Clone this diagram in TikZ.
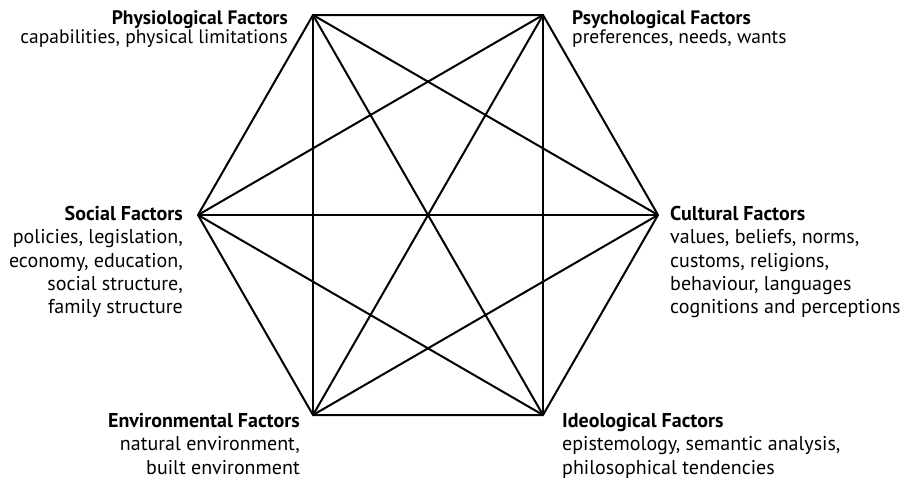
\documentclass[tikz,border=0pt]{standalone}
\usepackage{fontspec}
\setmainfont{PT Sans}
\begin{document}
\begin{tikzpicture}[x=1pt,y=-1pt,
    factor/.style={inner sep=0pt,font=\fontsize{20}{23.3}\selectfont},
    edge/.style={line width=2pt,line join=miter}]
    \useasboundingbox (0,0) rectangle (907,482);

    % corners of the hexagon
    \coordinate (phys)  at (313,15);
    \coordinate (psych) at (543,15);
    \coordinate (cult)  at (658,215);
    \coordinate (ideo)  at (543,415);
    \coordinate (env)   at (313,415);
    \coordinate (soc)   at (198,215);

    % outline
    \draw[edge] (phys) -- (psych) -- (cult) -- (ideo) -- (env) -- (soc) -- cycle;

    % long diagonals
    \draw[edge] (phys) -- (ideo);
    \draw[edge] (psych) -- (env);
    \draw[edge] (soc) -- (cult);

    % short diagonals
    \draw[edge] (phys) -- (cult);
    \draw[edge] (phys) -- (env);
    \draw[edge] (psych) -- (soc);
    \draw[edge] (psych) -- (ideo);
    \draw[edge] (cult) -- (env);
    \draw[edge] (ideo) -- (soc);

    % factor labels
    \node[factor,font=\fontsize{19.5}{19.5}\selectfont,anchor=north east,align=right] (physlab) at (288,10)
        {\textbf{Physiological Factors}\\capabilities, physical limitations};
    \node[factor,font=\fontsize{19.5}{19.5}\selectfont,anchor=north west,align=left] (psychlab) at (572,10)
        {\textbf{Psychological Factors}\\preferences, needs, wants};
    \node[factor,anchor=north east,align=right] (soclab) at (183,206)
        {\textbf{Social Factors}\\policies, legislation,\\economy, education,\\social structure,\\family structure};
    \node[factor,anchor=north west,align=left] (cultlab) at (670,206)
        {\textbf{Cultural Factors}\\values, beliefs, norms,\\customs, religions,\\behaviour, languages\\cognitions and perceptions};
    \node[factor,anchor=north east,align=right] (envlab) at (300,413)
        {\textbf{Environmental Factors}\\natural environment,\\built environment};
    \node[factor,anchor=north west,align=left] (ideolab) at (562,413)
        {\textbf{Ideological Factors}\\epistemology, semantic analysis,\\philosophical tendencies};

\end{tikzpicture}
\end{document}
